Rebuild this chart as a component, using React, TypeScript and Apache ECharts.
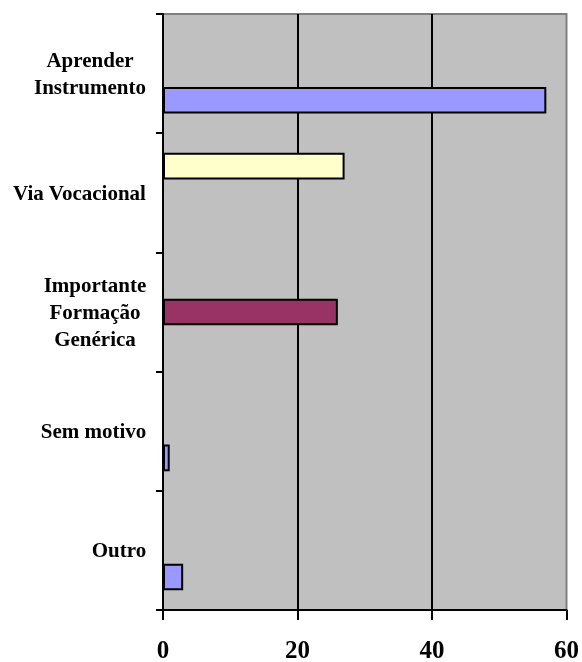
import React, { useEffect, useRef } from "react";
import * as echarts from "echarts";

const categories = [
  "Aprender\nInstrumento",
  "Via Vocacional",
  "Importante\nFormação\nGenérica",
  "Sem motivo",
  "Outro",
];
// three series per category (upper, middle, lower bar slot)
const upperValues = [null, 27, null, null, null];
const middleValues = [null, null, 26, null, null];
const lowerValues = [57, null, null, 1, 3];
const xTicks = [0, 20, 40, 60];

const FONT = '"Liberation Serif", "Times New Roman", serif';

function measure(text: string, size: number): number {
  const c = document.createElement("canvas").getContext("2d");
  if (!c) return text.length * size * 0.5;
  c.font = `bold ${size}px ${FONT}`;
  return c.measureText(text).width;
}

export default function App() {
  const ref = useRef<HTMLDivElement>(null);
  useEffect(() => {
    if (!ref.current) return;
    const chart = echarts.init(ref.current, undefined, { renderer: "svg" });
    const rich: Record<string, any> = {};
    categories.forEach((c, i) => {
      const w = Math.max(...c.split("\n").map((l) => measure(l, 21)));
      rich["w" + i] = {
        width: Math.ceil(w) + 1,
        align: "center",
        fontSize: 21,
        fontWeight: "bold",
        fontFamily: FONT,
        color: "#000",
        lineHeight: 27,
      };
    });
    const barStyle = (color: string) => ({
      color,
      borderColor: "#000",
      borderWidth: 2,
    });
    chart.setOption({
      animation: false,
      grid: {
        left: 163,
        top: 14,
        right: 15,
        bottom: 50,
        show: true,
        backgroundColor: "#c0c0c0",
        borderColor: "#808080",
        borderWidth: 2,
      },
      xAxis: {
        type: "value",
        min: 0,
        max: 60,
        interval: 20,
        axisLine: { show: true, lineStyle: { color: "#000", width: 2 } },
        axisTick: { show: true, length: 10, lineStyle: { color: "#000", width: 2 } },
        axisLabel: {
          margin: 27,
          fontSize: 25,
          fontWeight: "bold",
          fontFamily: FONT,
          color: "#000",
          formatter: (v: number) => (xTicks.includes(v) ? String(v) : ""),
        },
        splitLine: {
          show: true,
          showMinLine: false,
          showMaxLine: false,
          lineStyle: { color: "#000", width: 2 },
        },
      },
      yAxis: {
        type: "category",
        inverse: true,
        data: categories,
        axisLine: { show: true, lineStyle: { color: "#000", width: 2 } },
        axisTick: { show: true, length: 7, lineStyle: { color: "#000", width: 2 } },
        axisLabel: {
          margin: 16,
          fontSize: 21,
          fontWeight: "bold",
          fontFamily: FONT,
          color: "#000",
          lineHeight: 27,
          formatter: (v: string, i: number) =>
            v
              .split("\n")
              .map((l) => `{w${i}|${l}}`)
              .join("\n"),
          rich,
        },
        splitLine: { show: false },
      },
      series: [
        {
          type: "bar",
          name: "upper",
          data: upperValues,
          barGap: "0%",
          barCategoryGap: "33%",
          itemStyle: barStyle("#ffffcc"),
        },
        {
          type: "bar",
          name: "middle",
          data: middleValues,
          barGap: "0%",
          barCategoryGap: "33%",
          itemStyle: barStyle("#993366"),
        },
        {
          type: "bar",
          name: "lower",
          data: lowerValues,
          barGap: "0%",
          barCategoryGap: "33%",
          itemStyle: barStyle("#9999ff"),
        },
      ],
    });
    return () => chart.dispose();
  }, []);
  return (
    <div
      ref={ref}
      style={{ position: "fixed", left: 0, top: 0, width: 582, height: 662 }}
    />
  );
}
